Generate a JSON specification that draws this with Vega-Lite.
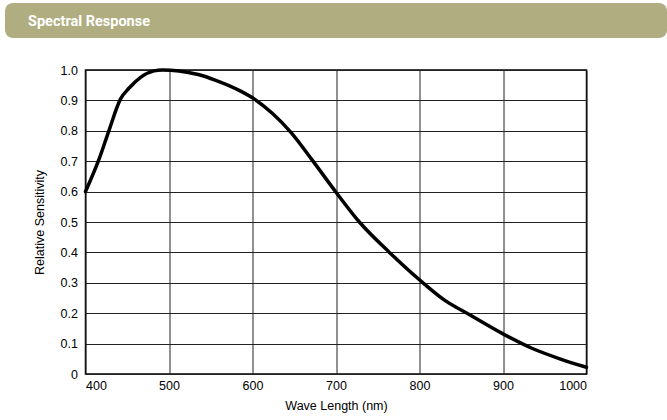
{
  "$schema": "https://vega.github.io/schema/vega-lite/v6.json",
  "padding": {"left": 5, "top": 3, "right": 0, "bottom": 2},
  "background": "white",
  "spacing": 32,
  "bounds": "flush",
  "center": true,
  "vconcat": [
    {
      "width": 662,
      "height": 35,
      "view": {"fill": "#b0ae80", "stroke": null, "cornerRadius": 8},
      "data": {"values": [{"label": "Spectral Response"}]},
      "mark": {"type": "text", "align": "left", "baseline": "middle", "dx": 23, "dy": 1, "color": "white", "fontSize": 14.5, "fontWeight": "bold", "font": "Roboto, sans-serif"},
      "encoding": {
        "text": {"field": "label"},
        "x": {"datum": 0, "type": "quantitative", "scale": {"domain": [0, 1]}, "axis": null}
      }
    },
    {
      "width": 501,
      "height": 304,
      "data": {"values": [
        {"wavelength": 400, "sensitivity": 0.6},
        {"wavelength": 416, "sensitivity": 0.705},
        {"wavelength": 428, "sensitivity": 0.80},
        {"wavelength": 442, "sensitivity": 0.905},
        {"wavelength": 452, "sensitivity": 0.940},
        {"wavelength": 466, "sensitivity": 0.976},
        {"wavelength": 482, "sensitivity": 0.997},
        {"wavelength": 492, "sensitivity": 1.0},
        {"wavelength": 512, "sensitivity": 0.997},
        {"wavelength": 535, "sensitivity": 0.985},
        {"wavelength": 556, "sensitivity": 0.966},
        {"wavelength": 584, "sensitivity": 0.933},
        {"wavelength": 602, "sensitivity": 0.905},
        {"wavelength": 624, "sensitivity": 0.857},
        {"wavelength": 646, "sensitivity": 0.795},
        {"wavelength": 672, "sensitivity": 0.702},
        {"wavelength": 700, "sensitivity": 0.598},
        {"wavelength": 728, "sensitivity": 0.5},
        {"wavelength": 764, "sensitivity": 0.40},
        {"wavelength": 802, "sensitivity": 0.305},
        {"wavelength": 830, "sensitivity": 0.243},
        {"wavelength": 860, "sensitivity": 0.195},
        {"wavelength": 900, "sensitivity": 0.132},
        {"wavelength": 936, "sensitivity": 0.083},
        {"wavelength": 968, "sensitivity": 0.05},
        {"wavelength": 1000, "sensitivity": 0.022}
      ]},
      "mark": {"type": "line", "color": "#000", "strokeWidth": 3.5, "interpolate": "monotone", "strokeCap": "round", "clip": false},
      "encoding": {
        "x": {
          "field": "wavelength", "type": "quantitative",
          "scale": {"domain": [400, 1000], "nice": false, "zero": false},
          "axis": {"values": [400, 500, 600, 700, 800, 900, 1000], "format": "d", "title": "Wave Length (nm)", "labelPadding": 5, "titlePadding": 8}
        },
        "y": {
          "field": "sensitivity", "type": "quantitative",
          "scale": {"domain": [0, 1], "nice": false},
          "axis": {"values": [0, 0.1, 0.2, 0.3, 0.4, 0.5, 0.6, 0.7, 0.8, 0.9, 1.0], "title": "Relative Sensitivity", "labelExpr": "datum.value == 0 ? '0' : format(datum.value, '.1f')", "labelPadding": 8, "titlePadding": 14}
        }
      }
    }
  ],
  "config": {
    "view": {"stroke": "#000", "strokeWidth": 1.5},
    "axis": {
      "grid": true, "gridColor": "#222", "gridOpacity": 1, "gridWidth": 1,
      "domain": false, "ticks": false,
      "labelFont": "Liberation Sans", "labelFontSize": 12.5, "labelColor": "#000",
      "titleFont": "Liberation Sans", "titleFontSize": 12.5, "titleFontWeight": "normal", "titleColor": "#000"
    }
  }
}
